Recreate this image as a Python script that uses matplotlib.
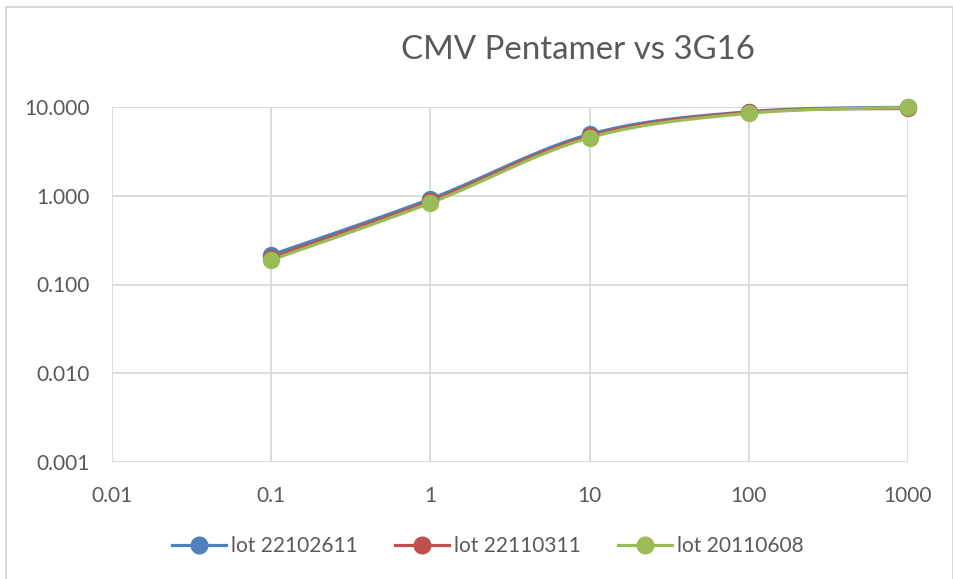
import numpy as np
import matplotlib
matplotlib.use("Agg")
import matplotlib.pyplot as plt
from matplotlib.patches import Rectangle
from matplotlib.ticker import FixedLocator, NullLocator

plt.rcParams['font.family'] = ['Lato', 'DejaVu Sans']

title = "CMV Pentamer vs 3G16"
x_vals = [0.1, 1, 10, 100, 1000]
series_names = ["lot 22102611", "lot 22110311", "lot 20110608"]
lot_22102611 = [0.215, 0.92, 4.92, 8.85, 9.95]
lot_22110311 = [0.200, 0.87, 4.70, 8.70, 9.65]
lot_20110608 = [0.189, 0.83, 4.51, 8.49, 9.9]
series_vals = [lot_22102611, lot_22110311, lot_20110608]
colors = ["#4F81BD", "#C0504D", "#9BBB59"]
x_ticks = [0.01, 0.1, 1, 10, 100, 1000]
x_tick_labels = ["0.01", "0.1", "1", "10", "100", "1000"]
y_ticks = [0.001, 0.01, 0.1, 1, 10]
y_tick_labels = ["0.001", "0.010", "0.100", "1.000", "10.000"]

W, H = 954, 579
fig = plt.figure(figsize=(W / 100, H / 100), dpi=100)
ax = fig.add_axes([112 / W, 1 - 462 / H, (908 - 112) / W, (462 - 107) / H])

def smooth(xs, ys, n=30):
    lx = np.log10(xs)
    ly = np.log10(ys)
    P = np.column_stack([lx, ly])
    out = []
    for i in range(len(P) - 1):
        p0 = P[i - 1] if i > 0 else P[i]
        p1 = P[i]
        p2 = P[i + 1]
        p3 = P[i + 2] if i + 2 < len(P) else P[i + 1]
        c1 = p1 + (p2 - p0) / 6
        c2 = p2 - (p3 - p1) / 6
        t = np.linspace(0, 1, n)[:, None]
        seg = (1 - t) ** 3 * p1 + 3 * (1 - t) ** 2 * t * c1 + 3 * (1 - t) * t ** 2 * c2 + t ** 3 * p2
        out.append(seg if i == 0 else seg[1:])
    S = np.vstack(out)
    return 10 ** S[:, 0], 10 ** S[:, 1]

handles = []
for name, vals, c in zip(series_names, series_vals, colors):
    sx, sy = smooth(x_vals, vals)
    ax.plot(sx, sy, color=c, lw=2.3, solid_capstyle='round', zorder=3, clip_on=False)
    ax.plot(x_vals, vals, 'o', color=c, ms=11.5, zorder=4, clip_on=False)
    h, = ax.plot([], [], color=c, lw=2.3, marker='o', ms=12, label=name)
    handles.append(h)

ax.set_xscale('log')
ax.set_yscale('log')
ax.set_xlim(0.01, 1000)
ax.set_ylim(0.001, 10)
ax.xaxis.set_major_locator(FixedLocator(x_ticks))
ax.yaxis.set_major_locator(FixedLocator(y_ticks))
ax.xaxis.set_minor_locator(NullLocator())
ax.yaxis.set_minor_locator(NullLocator())
ax.set_xticklabels(x_tick_labels)
ax.set_yticklabels(y_tick_labels)
ax.tick_params(axis='both', length=0, labelsize=15, colors='#595959')
ax.tick_params(axis='y', pad=16)
ax.tick_params(axis='x', pad=17)
ax.grid(True, color='#D9D9D9', lw=1.3)
ax.set_axisbelow(True)
for s in ax.spines.values():
    s.set_visible(False)

fig.text(578 / W, 1 - 50 / H, title, ha='center', va='center', fontsize=23.8, color='#595959')

fig.legend(handles=handles, loc='center', bbox_to_anchor=(488 / W, 1 - 546 / H), ncol=3,
           frameon=False, fontsize=15, handlelength=2.6, handletextpad=0.24,
           columnspacing=1.78, labelcolor='#595959', borderpad=0, borderaxespad=0)

fig.patches.append(Rectangle((6 / W, -0.1), (953 - 6) / W, 1.1 - 7 / H, transform=fig.transFigure,
                             fill=False, edgecolor='#D9D9D9', lw=1.5))

fig.savefig('out.png', dpi=100)
